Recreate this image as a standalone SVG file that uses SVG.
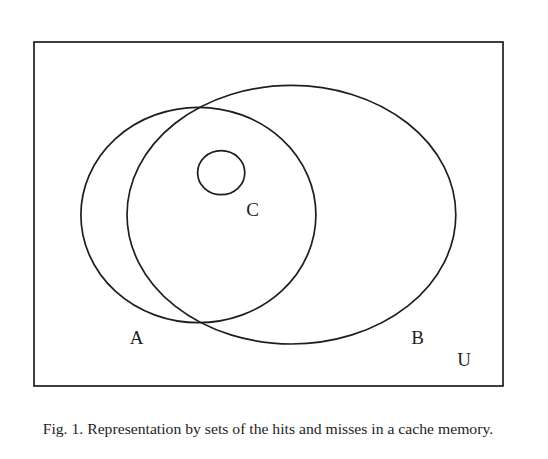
<svg xmlns="http://www.w3.org/2000/svg" width="548" height="459" viewBox="0 0 548 459">
<style>
.ln{fill:none;stroke:#1e1e1e;stroke-width:1.7}
.lbl{font-family:"Liberation Serif","Times New Roman",serif;font-size:19px;fill:#1e1e1e;text-anchor:middle}
.cap{font-family:"Liberation Serif","Times New Roman",serif;font-size:14.5px;fill:#1e1e1e}
</style>
<rect width="548" height="459" fill="#fff"/>
<g id="U">
<rect class="ln" x="34" y="42" width="469" height="344"/>
<text class="lbl" x="464" y="366">U</text>
</g>
<g id="A">
<ellipse class="ln" cx="198.4" cy="215" rx="117.5" ry="107.7"/>
<text class="lbl" x="136.5" y="344">A</text>
</g>
<g id="B">
<ellipse class="ln" cx="291.4" cy="214.7" rx="164.4" ry="129.3"/>
<text class="lbl" x="417.5" y="344">B</text>
</g>
<g id="C">
<ellipse class="ln" cx="221.2" cy="172.7" rx="23.6" ry="22"/>
<text class="lbl" x="252.5" y="216">C</text>
</g>
<g id="connectors"></g>
<text class="cap" x="42.7" y="434" textLength="450.5" lengthAdjust="spacingAndGlyphs">Fig. 1. Representation by sets of the hits and misses in a cache memory.</text>
</svg>
